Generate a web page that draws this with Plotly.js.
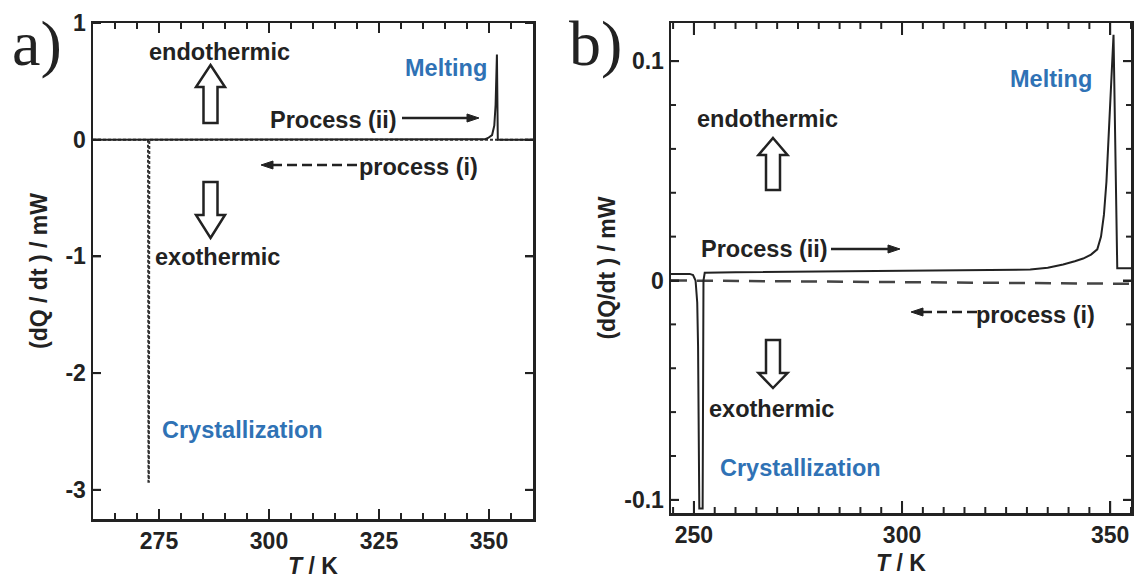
<!DOCTYPE html>
<html>
<head>
<meta charset="utf-8">
<script src="https://cdn.plot.ly/plotly-3.0.1.min.js"></script>
<style>html,body{margin:0;padding:0;background:#fff;}#chart{width:1134px;height:579px;}</style>
</head>
<body>
<div id="chart"></div>
<script>
// ---------- data ----------
// Panel a) : process (ii) heating (solid), process (i) cooling (dashed)
const aT_ii = [260, 300, 340, 349.0, 349.8, 350.7, 351.2, 351.5, 351.8, 352.0, 352.2, 360];
const aQ_ii = [0, 0, 0, 0.003, 0.015, 0.04, 0.12, 0.3, 0.73, 0.0, 0.0, 0];
const aT_i = [360, 320, 280, 272.8, 272.7, 272.6, 272.5, 265, 260];
const aQ_i = [0, 0, 0, 0, -2.93, -2.93, 0, 0, 0];

// Panel b) : process (ii) heating (solid), process (i) cooling (dashed)
const bT_ii = [244.5, 249.0, 249.8, 250.4, 250.8, 251.0, 251.3, 252.1, 252.3, 252.6, 260, 280, 300, 320, 330.8, 335, 338.7, 341.5, 343.5, 345.4, 346.9, 347.8, 348.5, 349.1, 349.6, 350.1, 350.5, 350.8, 351.7, 355];
const bQ_ii = [0.003, 0.003, 0.0025, 0.0, -0.01, -0.03, -0.104, -0.104, 0.0, 0.0035, 0.0038, 0.0042, 0.0045, 0.0048, 0.005, 0.0058, 0.0073, 0.0088, 0.010, 0.0118, 0.0142, 0.020, 0.030, 0.045, 0.065, 0.088, 0.104, 0.112, 0.0056, 0.0056];
const bT_i = [244.5, 280, 320, 355];
const bQ_i = [0.0, -0.0005, -0.001, -0.0015];

// tick labels
const aXTickVals = [275, 300, 325, 350];
const aXTickText = ['275', '300', '325', '350'];
const aYTickVals = [1, 0, -1, -2, -3];
const aYTickText = ['1', '0', '-1', '-2', '-3'];
const bXTickVals = [250, 300, 350];
const bXTickText = ['250', '300', '350'];
const bYTickVals = [0.1, 0, -0.1];
const bYTickText = ['0.1', '0', '-0.1'];

// ---------- layout helpers ----------
const W = 1134, H = 579;
const fx = x => x / W;
const fy = y => 1 - y / H;
const P = (x, y) => fx(x).toFixed(5) + ',' + fy(y).toFixed(5);
const INK = '#222';
const BLUE = '#2f72b5';
const FONT = 'Liberation Sans, Arial, sans-serif';

// plot frames in pixels
const A = {l: 93, r: 533, t: 23, b: 519};
const B = {l: 671, r: 1131, t: 23, b: 513};

function tickFont() { return {family: FONT, size: 23, color: INK, weight: 'bold'}; }
function axisBase(extra) {
  return Object.assign({
    showline: true, linewidth: 2.5, linecolor: INK, mirror: 'ticks',
    ticks: 'inside', tickwidth: 2, tickcolor: INK,
    tickmode: 'array', showgrid: false, zeroline: false,
    tickfont: tickFont(), automargin: false, fixedrange: true
  }, extra);
}

const traces = [
  {x: aT_i, y: aQ_i, xaxis: 'x', yaxis: 'y', mode: 'lines', line: {color: '#333', width: 2, dash: '3px,2px'}, name: 'process (i)'},
  {x: aT_ii, y: aQ_ii, xaxis: 'x', yaxis: 'y', mode: 'lines', line: {color: INK, width: 2}, name: 'Process (ii)'},
  {x: bT_i, y: bQ_i, xaxis: 'x2', yaxis: 'y2', mode: 'lines', line: {color: '#444', width: 2.5, dash: '16px,10px'}, name: 'process (i)'},
  {x: bT_ii, y: bQ_ii, xaxis: 'x2', yaxis: 'y2', mode: 'lines', line: {color: INK, width: 2}, name: 'Process (ii)'}
];

// ---------- annotations ----------
function lbl(text, x, y, color, opts) {
  return Object.assign({
    text: text, xref: 'paper', yref: 'paper', x: fx(x), y: fy(y),
    xanchor: 'center', yanchor: 'middle', showarrow: false,
    font: {family: FONT, size: 23.5, color: color || INK, weight: 'bold'}
  }, opts || {});
}
const serif = {family: 'Liberation Serif, Times New Roman, serif', size: 64, color: INK};
const annotations = [
  lbl('a)', 10, 44, INK, {xanchor: 'left', font: serif}),
  lbl('b)', 567, 44, INK, {xanchor: 'left', font: serif}),
  lbl('endothermic', 219, 52),
  lbl('Melting', 446, 68, BLUE),
  lbl('Process (ii)', 333, 120),
  lbl('process (i)', 418, 167),
  lbl('exothermic', 217, 257),
  lbl('Crystallization', 242, 430, BLUE),
  lbl('Melting', 1051, 79, BLUE),
  lbl('endothermic', 767, 119),
  lbl('Process (ii)', 764, 249),
  lbl('process (i)', 1035, 315),
  lbl('exothermic', 771, 409),
  lbl('Crystallization', 800, 468, BLUE)
];

// ---------- shapes: hollow block arrows and process arrows ----------
function blockArrow(cx, tipY, baseY, endY, hs, hh) {
  return {type: 'path', xref: 'paper', yref: 'paper',
    path: 'M' + P(cx, tipY) + 'L' + P(cx + hh, baseY) + 'L' + P(cx + hs, baseY) + 'L' + P(cx + hs, endY) +
          'L' + P(cx - hs, endY) + 'L' + P(cx - hs, baseY) + 'L' + P(cx - hh, baseY) + 'Z',
    line: {color: INK, width: 2.5}, fillcolor: '#fff'};
}
function hLine(x0, x1, y, dash) {
  return {type: 'line', xref: 'paper', yref: 'paper', x0: fx(x0), x1: fx(x1), y0: fy(y), y1: fy(y),
    line: {color: INK, width: 2.5, dash: dash || 'solid'}};
}
function head(x, y, dir, len, hw) {
  const bx = x - dir * len;
  return {type: 'path', xref: 'paper', yref: 'paper',
    path: 'M' + P(x, y) + 'L' + P(bx, y - hw) + 'L' + P(bx, y + hw) + 'Z',
    line: {color: INK, width: 1}, fillcolor: INK};
}
const shapes = [
  blockArrow(210.5, 65, 87, 123, 7, 14.5),
  blockArrow(210.5, 238, 215, 182, 7, 14.5),
  blockArrow(773, 138, 155, 190, 7, 14.5),
  blockArrow(773, 388, 373, 340, 7, 14.5),
  hLine(402, 470, 118), head(479, 118, 1, 12, 4),
  hLine(272, 357, 165, '10px,5px'), head(261, 165, -1, 12, 4),
  hLine(831, 891, 249), head(900, 249, 1, 12, 4),
  hLine(922, 979, 312, '10px,5px'), head(911, 312, -1, 12, 4)
];

// ---------- inward tick marks on all four sides (placed through the axes) ----------
function xTicks(xref, vals, frame, len) {
  vals.forEach(function(v) {
    shapes.push({type: 'line', xref: xref, yref: 'paper', x0: v, x1: v, y0: fy(frame.b), y1: fy(frame.b - len), line: {color: INK, width: 2}});
    shapes.push({type: 'line', xref: xref, yref: 'paper', x0: v, x1: v, y0: fy(frame.t), y1: fy(frame.t + len), line: {color: INK, width: 2}});
  });
}
function yTicks(yref, vals, frame, len) {
  vals.forEach(function(v) {
    shapes.push({type: 'line', xref: 'paper', yref: yref, x0: fx(frame.l), x1: fx(frame.l + len), y0: v, y1: v, line: {color: INK, width: 2}});
    shapes.push({type: 'line', xref: 'paper', yref: yref, x0: fx(frame.r), x1: fx(frame.r - len), y0: v, y1: v, line: {color: INK, width: 2}});
  });
}
function steps(from, to, step, skip) {
  const out = [];
  for (let i = 0; from + i * step <= to + 1e-9; i++) {
    const v = +(from + i * step).toFixed(6);
    if (!skip.some(function(s) { return Math.abs(s - v) < 1e-9; })) out.push(v);
  }
  return out;
}
xTicks('x', aXTickVals, A, 10);
xTicks('x', steps(265, 355, 5, aXTickVals), A, 6);
yTicks('y', aYTickVals, A, 8);
xTicks('x2', bXTickVals, B, 12);
xTicks('x2', steps(245, 355, 5, bXTickVals), B, 6);
yTicks('y2', bYTickVals, B, 8);
yTicks('y2', steps(-0.1, 0.1, 0.02, bYTickVals), B, 5);

const titleFont = {family: FONT, size: 23, color: INK, weight: 'bold'};

const layout = {
  width: W, height: H,
  margin: {l: 0, r: 0, t: 0, b: 0},
  paper_bgcolor: '#fff', plot_bgcolor: '#fff',
  showlegend: false,
  xaxis: axisBase({domain: [fx(A.l), fx(A.r)], range: [260, 360], anchor: 'y',
    tickvals: aXTickVals, ticktext: aXTickText, ticklen: 10,
    title: {text: '<i>T</i> / K', font: titleFont, standoff: 8}}),
  yaxis: axisBase({domain: [fy(A.b), fy(A.t)], range: [-3.25, 1], anchor: 'x',
    tickvals: aYTickVals, ticktext: aYTickText, ticklen: 8,
    title: {text: '(dQ / dt ) / mW', font: titleFont, standoff: 12}}),
  xaxis2: axisBase({domain: [fx(B.l), fx(B.r)], range: [244.5, 355], anchor: 'y2',
    tickvals: bXTickVals, ticktext: bXTickText, ticklen: 12,
    title: {text: '<i>T</i> / K', font: titleFont, standoff: 8}}),
  yaxis2: axisBase({domain: [fy(B.b), fy(B.t)], range: [-0.106, 0.1174], anchor: 'x2',
    tickvals: bYTickVals, ticktext: bYTickText, ticklen: 8,
    title: {text: '(dQ/dt ) / mW', font: titleFont, standoff: 2}}),
  annotations: annotations,
  shapes: shapes
};

Plotly.newPlot('chart', traces, layout, {staticPlot: true, displayModeBar: false});
</script>
</body>
</html>
